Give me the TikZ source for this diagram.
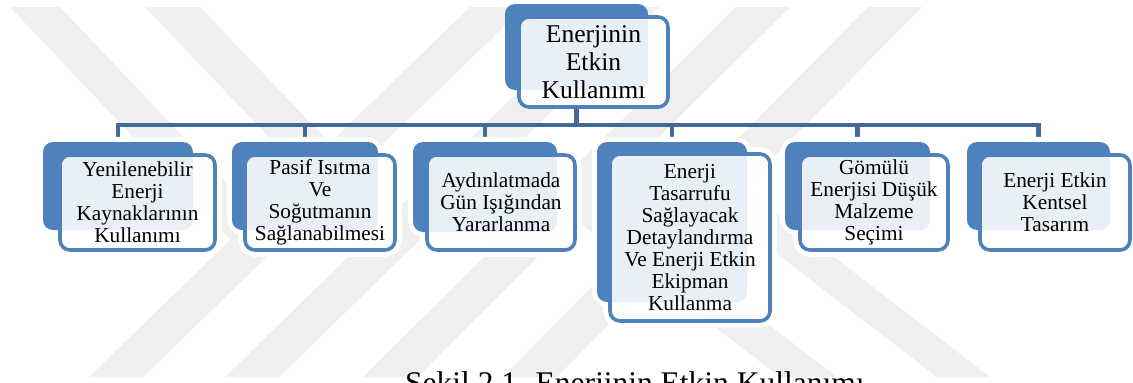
\documentclass[tikz,border=0pt]{standalone}
\usepackage{fontspec}
\setmainfont{Liberation Serif}
\definecolor{acc}{HTML}{4F81BD}
\definecolor{lineblue}{HTML}{41699C}
\definecolor{wmgray}{HTML}{EFEFEF}
\pgfdeclarelayer{wm}
\pgfdeclarelayer{links}
\pgfdeclarelayer{glow}
\pgfsetlayers{wm,links,glow,main}
\begin{document}
\begin{tikzpicture}[x=1pt,y=-1pt,
  backbox/.style={fill=acc, rounded corners=10pt, inner sep=0pt},
  frontbox/.style={fill=white, fill opacity=0.88, text opacity=1, draw=acc,
    line width=3.6pt, rounded corners=10pt, align=center, inner sep=0pt,
    font=\fontsize{21.3}{22}\selectfont},
  topbox/.style={frontbox, font=\fontsize{25.6}{28}\selectfont},
  glowline/.style={draw=white, line width=10pt, rounded corners=12pt},
  conn/.style={draw=lineblue, line width=4.5pt},
  band/.style={fill=wmgray}]
\useasboundingbox (0,0) rectangle (1133,383);
\clip (0,0) rectangle (1133,383);

% boxes
\node[backbox, minimum width=143pt, minimum height=86pt] (b0) at (576.5,47) {};
\node[topbox, minimum width=149pt, minimum height=90pt] (f0) at (593.5,62) {Enerjinin\\Etkin\\Kullanımı};

\node[backbox, minimum width=150pt, minimum height=88pt] (b1) at (118,186) {};
\node[frontbox, minimum width=155pt, minimum height=95pt] (f1) at (137.5,202.5) {Yenilenebilir\\Enerji\\Kaynaklarının\\Kullanımı};

\node[backbox, minimum width=146pt, minimum height=88pt] (b2) at (305,186) {};
\node[frontbox, minimum width=150pt, minimum height=95pt] (f2) at (320,202.5) {Pasif Isıtma\\Ve\\Soğutmanın\\Sağlanabilmesi};

\node[backbox, minimum width=144pt, minimum height=90pt] (b3) at (485,187) {};
\node[frontbox, minimum width=148pt, minimum height=95pt] (f3) at (501,202.5) {Aydınlatmada\\Gün Işığından\\Yararlanma};

\node[backbox, minimum width=150pt, minimum height=160pt] (b4) at (672,222) {};
\node[frontbox, minimum width=160pt, minimum height=167pt] (f4) at (690,237.5) {Enerji\\Tasarrufu\\Sağlayacak\\Detaylandırma\\Ve Enerji Etkin\\Ekipman\\Kullanma};

\node[backbox, minimum width=145pt, minimum height=88pt] (b5) at (857.5,186) {};
\node[frontbox, minimum width=148pt, minimum height=95pt] (f5) at (874,202.5) {Gömülü\\Enerjisi Düşük\\Malzeme\\Seçimi};

\node[backbox, minimum width=143pt, minimum height=88pt] (b6) at (1038.5,186) {};
\node[frontbox, minimum width=150pt, minimum height=95pt] (f6) at (1055,202.5) {Enerji Etkin\\Kentsel\\Tasarım};

% caption
\node[anchor=base west, inner sep=0pt, font=\fontsize{31.5}{34}\selectfont] (cap) at (405,393) {Şekil 2.1. Enerjinin Etkin Kullanımı};

% glow around child boxes
\begin{pgfonlayer}{glow}
  \foreach \i in {1,...,6} {
    \draw[glowline] (b\i.south west) rectangle (b\i.north east);
    \draw[glowline] (f\i.south west) rectangle (f\i.north east);
  }
\end{pgfonlayer}

% connectors
\begin{pgfonlayer}{links}
  \coordinate (hub) at (576.5,125);
  \draw[conn] (f0.south -| hub) -- (hub);
  \foreach \i in {1,...,6} \draw[conn] (hub) -| (b\i.north);
\end{pgfonlayer}

% watermark
\begin{pgfonlayer}{wm}
  \fill[band] (89,377) -- (143,377) -- (524,7) -- (470,7) -- cycle;
  \fill[band] (225,377) -- (279,377) -- (659,7) -- (605,7) -- cycle;
  \fill[band] (363,377) -- (417,377) -- (790,7) -- (736,7) -- cycle;
  \fill[band] (503,377) -- (557,377) -- (922,7) -- (868,7) -- cycle;
  \fill[band] (10,7) -- (60,7) -- (281,240) -- (231,240) -- cycle;
  \fill[band] (145,7) -- (200,7) -- (421,239) -- (366,239) -- cycle;
  \fill[band] (937,377) -- (990,377) -- (743,187) -- (690,187) -- cycle;
  \fill[band] (780,377) -- (837,377) -- (600,195) -- (543,195) -- cycle;
\end{pgfonlayer}
\end{tikzpicture}
\end{document}
